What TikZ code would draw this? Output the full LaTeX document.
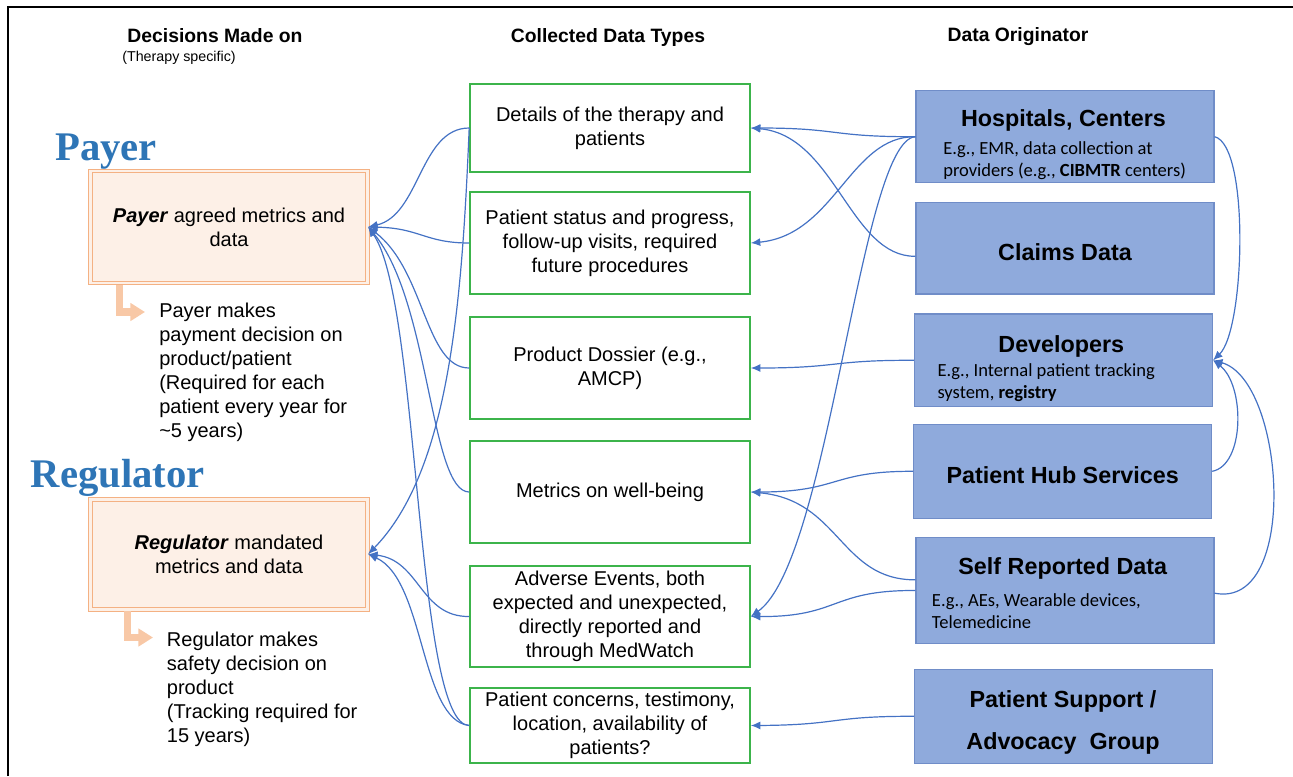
\documentclass[tikz,border=0pt]{standalone}
\usepackage{fontspec}
\setmainfont{Liberation Sans}
\newfontfamily\calibrifont{Carlito}
\newfontfamily\rolefont{Liberation Serif}
\usetikzlibrary{arrows.meta}
\definecolor{linkblue}{RGB}{68,114,196}
\definecolor{boxblue}{RGB}{143,170,220}
\definecolor{boxedge}{RGB}{112,141,200}
\definecolor{boxgreen}{RGB}{60,180,75}
\definecolor{peachfill}{RGB}{253,240,231}
\definecolor{peachedge}{RGB}{244,177,131}
\definecolor{peacharrow}{RGB}{248,200,166}
\definecolor{roleblue}{RGB}{46,117,182}
\tikzset{> = { Latex[length = 2.5mm, width = 2.1mm] }}

\begin{document}
\begin{tikzpicture}[x = 0.75pt, y = -0.75pt,
		heading/.style = {anchor = base, font = \bfseries\fontsize{14.5}{17}\selectfont},
		role/.style = {anchor = base west, text = roleblue, font = \rolefont\bfseries\fontsize{30.5}{36}\selectfont},
		decision/.style = {draw = peachedge, fill = peachfill, double = peachfill, double distance = 2.2pt, line width = 0.7pt, minimum width = 208pt, inner sep = 0pt, align = center, font = \fontsize{15}{18}\selectfont},
		outcome/.style = {anchor = north west, inner sep = 0pt, align = left, font = \fontsize{15}{18}\selectfont},
		result/.style = {draw = peacharrow, line width = 5.5pt, line join = miter, -{Triangle[length = 11pt, width = 13pt]}},
		datatype/.style = {draw = boxgreen, line width = 1.2pt, minimum width = 210pt, inner sep = 0pt, align = center, font = \fontsize{15}{18}\selectfont},
		origin/.style = {draw = boxedge, fill = boxblue, line width = 0.8pt, minimum width = 223.5pt, inner sep = 0pt, align = center, font = \bfseries\fontsize{17.5}{21}\selectfont},
		origintitle/.style = {anchor = base, inner sep = 0pt, align = center, font = \bfseries\fontsize{17.5}{21}\selectfont},
		detail/.style = {anchor = north west, inner sep = 0pt, align = left, font = \calibrifont\fontsize{13.9}{16.5}\selectfont},
		feed/.style = {->, draw = linkblue, line width = 0.9pt}]
		\useasboundingbox (0, 0) rectangle (1293, 776);
		\draw [line width = 1.2pt] (8, 776) -- (8, 7) -- (1293, 7);

		\node [heading] (hdecide) at (215, 42.7) {Decisions Made on};
		\node [anchor = base, font = \fontsize{10.7}{13}\selectfont] (hspecific) at (179, 61) {(Therapy specific)};
		\node [heading] (hdata) at (608, 42) {Collected Data Types};
		\node [heading] (horigin) at (1018, 41) {Data Originator};

		\node [role] (tpayer) at (50.7, 160) {Payer};
		\node [decision, minimum height = 84pt] (payer) at (229, 227) {\textbf{\textit{Payer}} agreed metrics and\\data};
		\draw [result] (119.5, 285) |- (145, 312);
		\node [outcome] (opayer) at (159, 303) {Payer makes\\payment decision on\\product/patient\\(Required for each\\patient every year for\\\textasciitilde5 years)};

		\node [role] (tregulator) at (26, 487.3) {Regulator};
		\node [decision, minimum height = 82.6pt] (regulator) at (229, 554.2) {\textbf{\textit{Regulator}} mandated\\metrics and data};
		\draw [result] (127.5, 611) |- (153, 637.5);
		\node [outcome] (oregulator) at (166.7, 632) {Regulator makes\\safety decision on\\product\\(Tracking required for\\15 years)};

		\node [datatype, minimum height = 66pt] (d1) at (610, 128) {Details of the therapy and\\patients};
		\node [datatype, minimum height = 76.5pt] (d2) at (610, 243) {Patient status and progress,\\follow-up visits, required\\future procedures};
		\node [datatype, minimum height = 76.5pt] (d3) at (610, 368) {Product Dossier (e.g.,\\AMCP)};
		\node [datatype, minimum height = 76.5pt] (d4) at (610, 492) {Metrics on well-being};
		\node [datatype, minimum height = 75.8pt] (d5) at (610, 616.5) {Adverse Events, both\\expected and unexpected,\\directly reported and\\through MedWatch};
		\node [datatype, minimum height = 56pt] (d6) at (610, 725.5) {Patient concerns, testimony,\\location, availability of\\patients?};

		\node [origin, minimum height = 69pt] (o1) at (1065, 136.7) {};
		\node [origintitle] (o1t) at (1063.5, 126.7) {Hospitals, Centers};
		\node [detail] (o1d) at (943, 141) {E.g., EMR, data collection at\\providers (e.g., \textbf{CIBMTR} centers)};
		\node [origin, minimum height = 68.5pt, text height = 19pt] (o2) at (1065, 248.3) {Claims Data};
		\node [origin, minimum height = 69.5pt] (o3) at (1063.5, 360.3) {};
		\node [origintitle] (o3t) at (1061.3, 352.7) {Developers};
		\node [detail] (o3d) at (937.3, 363.5) {E.g., Internal patient tracking\\system, \textbf{registry}};
		\node [origin, minimum height = 70.5pt, text height = 19pt] (o4) at (1062.7, 471.3) {Patient Hub Services};
		\node [origin, minimum height = 79.3pt] (o5) at (1065, 590.5) {};
		\node [origintitle] (o5t) at (1062.8, 574) {Self Reported Data};
		\node [detail] (o5d) at (931.7, 593) {E.g., AEs, Wearable devices,\\Telemedicine};
		\node [origin, minimum height = 70.5pt] (o6) at (1063.4, 716.3) {};
		\node [origintitle, font = \bfseries\fontsize{17.5}{31.5}\selectfont] (o6t) at (1063, 749) {Patient Support /\\Advocacy\ \ Group};

		\draw [feed] (d1.west) .. controls (420, 128) and (420, 215) .. (payer.east);
		\draw [feed] (d2.west) .. controls (425, 243) and (420, 228) .. (payer.east);
		\draw [feed] (d3.west) .. controls (425, 368) and (425, 270) .. (payer.east);
		\draw [feed] (d4.west) .. controls (430, 492) and (430, 300) .. (payer.east);
		\draw [feed] (d6.west) .. controls (415, 725) and (420, 300) .. (payer.east);
		\draw [feed] (d1.west) .. controls (462, 300) and (450, 470) .. (regulator.east);
		\draw [feed] (d5.west) .. controls (420, 617) and (420, 560) .. (regulator.east);
		\draw [feed] (d6.west) .. controls (420, 720) and (425, 580) .. (regulator.east);

		\draw [feed] (o1.west) .. controls (830, 137) and (840, 128) .. (d1.east);
		\draw [feed] (o1.west) .. controls (850, 136) and (835, 235) .. (d2.east);
		\draw [feed] ([yshift = -6pt]o2.west) .. controls (850, 257) and (835, 135) .. (d1.east);
		\draw [feed] (o1.west) .. controls (860, 140) and (830, 560) .. (d5.east);
		\draw [feed] (o3.west) .. controls (830, 360) and (840, 368) .. (d3.east);
		\draw [feed] (o4.west) .. controls (830, 471) and (840, 492) .. (d4.east);
		\draw [feed] ([yshift = 8pt]o5.west) .. controls (840, 580) and (840, 500) .. (d4.east);
		\draw [feed] (o5.west) .. controls (830, 590) and (840, 617) .. (d5.east);
		\draw [feed] (o6.west) .. controls (830, 716) and (840, 725) .. (d6.east);

		\draw [feed] (o1.east) .. controls (1250, 145) and (1245, 330) .. (o3.east);
		\draw [feed] (o4.east) .. controls (1245, 465) and (1245, 385) .. (o3.east);
		\draw [feed] ([yshift = -2pt]o5.east) .. controls (1300, 610) and (1285, 380) .. (o3.east);
	\end{tikzpicture}
\end{document}
